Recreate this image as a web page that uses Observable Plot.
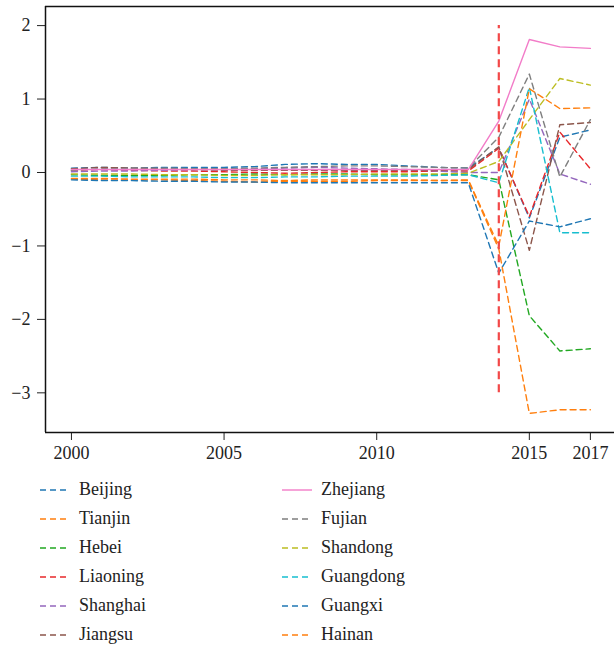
<!DOCTYPE html>
<html>
<head>
<meta charset="utf-8">
<script src="https://cdn.jsdelivr.net/npm/d3@7"></script>
<script src="https://cdn.jsdelivr.net/npm/@observablehq/plot@0.6"></script>
<style>
  body { margin: 0; background: #fff; font-family: 'Liberation Serif', 'Times New Roman', Times, serif; }
  #chart svg { display: block; }
  #legend { position: relative; height: 187px; width: 614px; }
  .item { position: absolute; height: 29px; line-height: 29px; display: flex; align-items: center; font-size: 18px; color: #222; white-space: nowrap; font-family: 'Liberation Serif', 'Times New Roman', Times, serif; }
  .item svg { margin-right: 9px; }
</style>
</head>
<body>
<div id="chart"></div>
<div id="legend"></div>
<script>
// Years on the horizontal axis
const years = [2000, 2001, 2002, 2003, 2004, 2005, 2006, 2007, 2008, 2009,
               2010, 2011, 2012, 2013, 2014, 2015, 2016, 2017];

// Provinces, in legend order
const provinces = ["Beijing", "Tianjin", "Hebei", "Liaoning", "Shanghai", "Jiangsu",
                   "Zhejiang", "Fujian", "Shandong", "Guangdong", "Guangxi", "Hainan"];

// One value per year for each province
const beijing   = [0.06, 0.07, 0.06, 0.07, 0.07, 0.07, 0.08, 0.11, 0.12, 0.11, 0.11, 0.09, 0.07, 0.06, 0.34, -0.62, 0.48, 0.58];
const tianjin   = [-0.09, -0.10, -0.10, -0.10, -0.11, -0.12, -0.13, -0.12, -0.12, -0.12, -0.11, -0.11, -0.11, -0.11, -1.04, -3.28, -3.23, -3.23];
const hebei     = [-0.03, -0.04, -0.04, -0.04, -0.03, -0.03, -0.02, -0.03, -0.02, -0.02, -0.03, -0.03, -0.03, -0.03, -0.10, -1.95, -2.43, -2.40];
const liaoning  = [0.03, 0.04, 0.03, 0.02, 0.02, 0.01, 0.00, -0.01, 0.00, 0.01, 0.01, 0.01, 0.02, 0.02, 0.33, -0.60, 0.55, 0.05];
const shanghai  = [0.01, 0.02, 0.02, 0.03, 0.04, 0.04, 0.05, 0.06, 0.07, 0.06, 0.05, 0.04, 0.02, 0.00, 0.00, 1.00, -0.02, -0.16];
const jiangsu   = [0.05, 0.07, 0.06, 0.05, 0.04, 0.03, 0.03, 0.03, 0.03, 0.03, 0.03, 0.03, 0.03, 0.04, 0.35, -1.06, 0.65, 0.68];
const zhejiang  = [0.04, 0.04, 0.04, 0.04, 0.04, 0.04, 0.04, 0.04, 0.04, 0.04, 0.04, 0.04, 0.04, 0.04, 0.70, 1.81, 1.71, 1.69];
const fujian    = [0.03, 0.05, 0.06, 0.06, 0.05, 0.05, 0.06, 0.07, 0.08, 0.09, 0.09, 0.08, 0.07, 0.06, 0.48, 1.34, -0.06, 0.72];
const shandong  = [-0.02, -0.02, -0.02, -0.03, -0.03, -0.04, -0.04, -0.03, -0.03, -0.03, -0.02, -0.02, -0.02, -0.01, 0.15, 0.72, 1.28, 1.19];
const guangdong = [-0.05, -0.05, -0.06, -0.06, -0.06, -0.07, -0.07, -0.06, -0.06, -0.05, -0.05, -0.05, -0.04, -0.03, -0.14, 1.16, -0.82, -0.82];
const guangxi   = [-0.10, -0.11, -0.11, -0.12, -0.12, -0.13, -0.13, -0.14, -0.14, -0.14, -0.14, -0.14, -0.14, -0.14, -1.37, -0.66, -0.74, -0.63];
const hainan    = [-0.08, -0.08, -0.09, -0.09, -0.09, -0.10, -0.10, -0.11, -0.10, -0.10, -0.10, -0.10, -0.11, -0.10, -1.00, 1.14, 0.87, 0.88];

const seriesValues = [beijing, tianjin, hebei, liaoning, shanghai, jiangsu,
                      zhejiang, fujian, shandong, guangdong, guangxi, hainan];

// Line colours (the ten-colour cycle wraps for the last two)
const colors = ["#1f77b4", "#ff7f0e", "#22a822", "#e8282b", "#9467bd", "#8c564b",
                "#f27cc8", "#7f7f7f", "#bcbd22", "#17becf", "#1f77b4", "#ff7f0e"];
const solidSeries = ["Zhejiang"];

// Axis ticks
const xTicks = [2000, 2005, 2010, 2015, 2017];
const yTicks = [-3, -2, -1, 0, 1, 2];

// Vertical marker
const markerYear = 2014;
const markerSpan = [-3, 2];

// Scale extents
const xDomain = [1999.15, 2017.79];
const yDomain = [-3.54, 2.26];

const rows = provinces.flatMap((name, i) =>
  years.map((year, j) => ({ name, year, value: seriesValues[i][j] })));
const dashedRows = rows.filter(d => !solidSeries.includes(d.name));
const solidRows = rows.filter(d => solidSeries.includes(d.name));

const serif = "'Liberation Serif', 'Times New Roman', Times, serif";

const chart = Plot.plot({
  width: 614,
  height: 462,
  marginTop: 6,
  marginBottom: 30,
  marginLeft: 45,
  marginRight: 0,
  style: { fontFamily: serif, fontSize: "18px", color: "#222", background: "white" },
  x: { domain: xDomain, ticks: xTicks, tickFormat: d => String(d), tickSize: 8, tickPadding: 6, label: null },
  y: { domain: yDomain, ticks: yTicks, tickFormat: d => (d < 0 ? "\u2212" + Math.abs(d) : String(d)), tickSize: 8, tickPadding: 7, label: null },
  color: { domain: provinces, range: colors },
  marks: [
    Plot.line(dashedRows, { x: "year", y: "value", z: "name", stroke: "name", strokeWidth: 1.4, strokeDasharray: "6,4" }),
    Plot.line(solidRows, { x: "year", y: "value", z: "name", stroke: "name", strokeWidth: 1.4 }),
    Plot.ruleX([markerYear], { y1: markerSpan[0], y2: markerSpan[1], stroke: "#f24848", strokeWidth: 2.2, strokeDasharray: "8,5" }),
    Plot.ruleX([xDomain[0]], { stroke: "#111", strokeWidth: 1.5 }),
    Plot.ruleY([yDomain[0]], { stroke: "#111", strokeWidth: 1.5 }),
    Plot.ruleY([yDomain[1]], { stroke: "#111", strokeWidth: 1.5 })
  ]
});
document.getElementById("chart").appendChild(chart);

// Legend: two columns of six entries beneath the chart
const legend = d3.select("#legend");
provinces.forEach((name, i) => {
  const col = Math.floor(i / 6), row = i % 6;
  const item = legend.append("div").attr("class", "item")
    .style("left", (col === 0 ? 40 : 282) + "px")
    .style("top", (13 + row * 29) + "px");
  const svg = item.append("svg").attr("width", 30).attr("height", 4);
  svg.append("line").attr("x1", 0).attr("x2", 30).attr("y1", 2).attr("y2", 2)
    .attr("stroke", colors[i]).attr("stroke-width", 1.4)
    .attr("stroke-dasharray", solidSeries.includes(name) ? null : "6,4");
  item.append("span").text(name);
});
</script>
</body>
</html>
